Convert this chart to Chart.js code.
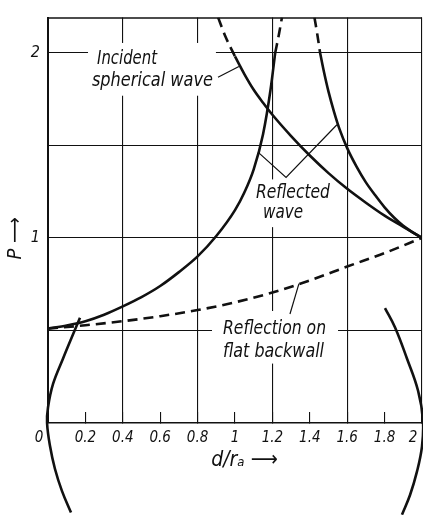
<!DOCTYPE html>
<html><head><meta charset="utf-8">
<script src="https://cdn.jsdelivr.net/npm/chart.js@4"></script>
<style>html,body{margin:0;padding:0;background:#fff}#wrap{width:423px;height:515px;position:relative}</style>
</head><body><div id="wrap"><canvas id="c"></canvas></div>
<script>
// ---- data ----
const xTickValues = [0, 0.2, 0.4, 0.6, 0.8, 1, 1.2, 1.4, 1.6, 1.8, 2];
const xTickLabels = ['0', '0.2', '0.4', '0.6', '0.8', '1', '1.2', '1.4', '1.6', '1.8', '2'];
const yTickLabels = {1: '1', 2: '2'};

const incidentDashD = [0.91, 0.95, 1.0];
const incidentDashP = [2.19, 2.085, 1.98];
const incidentD = [1.0, 1.05, 1.1, 1.15, 1.2, 1.3, 1.4, 1.5, 1.6, 1.7, 1.8, 1.9, 2.0];
const incidentP = [1.98, 1.885, 1.80, 1.73, 1.665, 1.55, 1.445, 1.35, 1.265, 1.19, 1.12, 1.06, 1.0];

const leftD = [0, 0.1, 0.2, 0.3, 0.4, 0.5, 0.6, 0.7, 0.8, 0.9, 1.0, 1.05, 1.1, 1.15, 1.19, 1.215];
const leftP = [0.51, 0.527, 0.55, 0.585, 0.63, 0.68, 0.74, 0.815, 0.9, 1.01, 1.15, 1.245, 1.37, 1.56, 1.8, 2.0];
const leftDashD = [1.215, 1.235, 1.251];
const leftDashP = [2.0, 2.1, 2.19];

const rightDashD = [1.425, 1.44, 1.455];
const rightDashP = [2.19, 2.1, 2.0];
const rightD = [1.455, 1.475, 1.5, 1.53, 1.56, 1.6, 1.65, 1.7, 1.75, 1.8, 1.85, 1.9, 1.95, 2.0];
const rightP = [2.0, 1.9, 1.79, 1.68, 1.585, 1.485, 1.385, 1.3, 1.23, 1.165, 1.11, 1.065, 1.03, 1.0];

const flatD = [0, 0.2, 0.4, 0.6, 0.8, 1.0, 1.2, 1.4, 1.6, 1.8, 2.0];
const flatP = [0.51, 0.528, 0.55, 0.577, 0.61, 0.652, 0.705, 0.77, 0.845, 0.918, 1.0];

const leftArcD = [0.171, 0.134, 0.080, 0.027, 0.0, -0.005, 0.011, 0.037, 0.075, 0.123];
const leftArcP = [0.568, 0.479, 0.347, 0.211, 0.084, 0, -0.126, -0.247, -0.368, -0.484];
const rightArcD = [1.802, 1.856, 1.92, 1.979, 2.005, 2.0, 1.973, 1.936, 1.893];
const rightArcP = [0.621, 0.516, 0.347, 0.174, 0.016, -0.126, -0.263, -0.389, -0.495];

// annotation texts
const annotTexts = ['Incident', 'spherical wave', 'Reflected', 'wave', 'Reflection on', 'flat backwall'];

// ---- layout / style (not data) ----
const annotPos = [[0.262, 1.937, 60], [0.235, 1.821, 121], [1.112, 1.216, 74], [1.150, 1.105, 40], [0.936, 0.479, 103], [0.936, 0.358, 101]];
const annotBoxes = [[0.214, 0.898, 2.053, 1.768], [1.080, 1.535, 1.316, 1.058], [0.877, 1.551, 0.605, 0.321]];
const leaderA = [[0.909, 1.868], [1.021, 1.926]];
const leaderB = [[1.123, 1.463], [1.273, 1.326], [1.545, 1.611]];
const leaderC = [[1.294, 0.589], [1.342, 0.753]];
const xLabelNudge = {0: -9, 10: -9};

const INK = '#111';
const FONT_FAM = '"Liberation Sans Narrow", "DejaVu Sans Condensed", "DejaVu Sans", sans-serif';

const pts = (xs, ys) => xs.map((v, i) => ({x: v, y: ys[i]}));
const pairs = (arr) => arr.map(p => ({x: p[0], y: p[1]}));

function curve(data, dashed, extra) {
  return Object.assign({
    data, showLine: true, borderColor: INK, backgroundColor: INK, borderWidth: 2.6,
    pointRadius: 0, cubicInterpolationMode: 'monotone', borderDash: dashed ? [10, 6] : [],
    borderCapStyle: 'butt'
  }, extra || {});
}

const datasets = [
  curve(pts(incidentDashD, incidentDashP), true),
  curve(pts(incidentD, incidentP), false),
  curve(pts(leftD, leftP), false),
  curve(pts(leftDashD, leftDashP), true),
  curve(pts(rightDashD, rightDashP), true),
  curve(pts(rightD, rightP), false),
  curve(pts(flatD, flatP), true),
  curve(pts(leftArcD, leftArcP), false, {cubicInterpolationMode: 'default', tension: 0.4, clip: false}),
  curve(pts(rightArcD, rightArcP), false, {cubicInterpolationMode: 'default', tension: 0.4, clip: false}),
  curve(pairs(leaderA), false, {borderWidth: 1.2, cubicInterpolationMode: 'default', tension: 0}),
  curve(pairs(leaderB), false, {borderWidth: 1.2, cubicInterpolationMode: 'default', tension: 0}),
  curve(pairs(leaderC), false, {borderWidth: 1.2, cubicInterpolationMode: 'default', tension: 0})
];

const deco = {
  id: 'deco',
  beforeDatasetsDraw(chart) {
    const {ctx, chartArea: a, scales: {x, y}} = chart;
    ctx.save();
    ctx.strokeStyle = INK; ctx.lineWidth = 1.5;
    ctx.beginPath(); ctx.moveTo(a.left, a.top + 0.5); ctx.lineTo(a.right, a.top + 0.5); ctx.stroke();
    ctx.fillStyle = '#fff';
    for (const b of annotBoxes) {
      const x1 = x.getPixelForValue(b[0]), x2 = x.getPixelForValue(b[1]);
      const y1 = y.getPixelForValue(b[2]), y2 = y.getPixelForValue(b[3]);
      ctx.fillRect(x1, y1, x2 - x1, y2 - y1);
    }
    ctx.fillStyle = INK;
    ctx.font = 'italic 19px ' + FONT_FAM;
    ctx.textAlign = 'left'; ctx.textBaseline = 'alphabetic';
    annotTexts.forEach((t, i) => {
      const p = annotPos[i];
      const px = x.getPixelForValue(p[0]), py = y.getPixelForValue(p[1]);
      const w = ctx.measureText(t).width;
      ctx.save(); ctx.translate(px, py); ctx.scale(p[2] / w, 1); ctx.fillText(t, 0, 0); ctx.restore();
    });
    ctx.restore();
  },
  afterDraw(chart) {
    const {ctx, scales: {x}} = chart;
    ctx.save();
    ctx.fillStyle = INK;
    ctx.font = 'italic 15px ' + FONT_FAM;
    ctx.textAlign = 'center'; ctx.textBaseline = 'middle';
    xTickValues.forEach((v, i) => {
      const px = x.getPixelForValue(v) + (xLabelNudge[i] || 0);
      ctx.fillText(xTickLabels[i], px, x.top + 15);
    });
    ctx.restore();
  }
};

const isMajor = (v) => Math.round(v * 10) % 4 === 0;

new Chart(document.getElementById('c'), {
  type: 'scatter',
  data: {datasets},
  plugins: [deco],
  options: {
    responsive: true, maintainAspectRatio: false, animation: false,
    layout: {padding: {top: 7, right: 1, left: 0, bottom: 0}},
    plugins: {legend: {display: false}, tooltip: {enabled: false}},
    scales: {
      x: {
        type: 'linear', min: 0, max: 2,
        afterBuildTicks: (s) => { s.ticks = xTickValues.map(v => ({value: v})); },
        afterFit: (s) => { s.height = 92; },
        ticks: {display: false},
        grid: {
          color: (c) => (c.tick && isMajor(c.tick.value) && c.tick.value > 0) ? INK : 'rgba(0,0,0,0)',
          lineWidth: 1.1, drawTicks: true, tickLength: -11, tickColor: INK, tickWidth: 1.1
        },
        border: {display: true, color: INK, width: 1.6},
        title: {display: true, text: '\u2003d/rₐ ⟶', color: INK,
          font: {family: FONT_FAM, size: 21, style: 'italic'}, padding: {top: 0, bottom: 42}}
      },
      y: {
        type: 'linear', min: 0, max: 2.19,
        afterBuildTicks: (s) => { s.ticks = [0, 0.5, 1, 1.5, 2].map(v => ({value: v})); },
        afterFit: (s) => { s.width = 48; },
        ticks: {color: INK, padding: 8, font: {family: FONT_FAM, size: 16, style: 'italic'},
          callback: (v) => yTickLabels[v] || ''},
        grid: {color: (c) => (c.tick && c.tick.value > 0) ? INK : 'rgba(0,0,0,0)', lineWidth: 1.1, drawTicks: false},
        border: {display: true, color: INK, width: 2},
        title: {display: true, text: 'P ⟶\u2003\u2003', color: INK,
          font: {family: FONT_FAM, size: 20, style: 'italic'}, padding: {top: 4, bottom: 0}}
      }
    }
  }
});
</script></body></html>
